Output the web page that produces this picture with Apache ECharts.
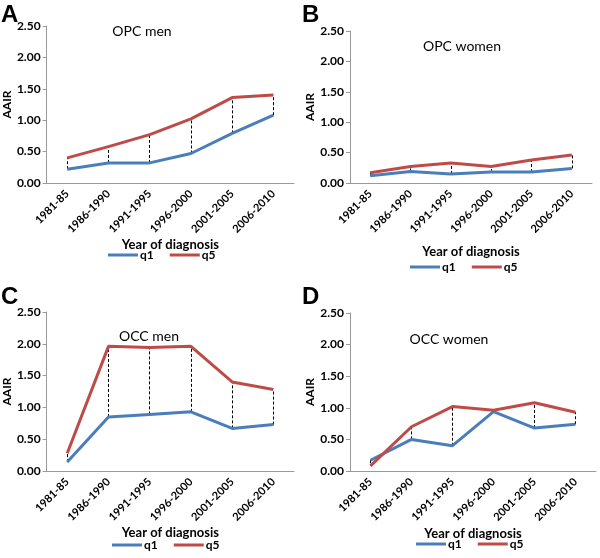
<!DOCTYPE html>
<html>
<head>
<meta charset="utf-8">
<script src="https://cdn.jsdelivr.net/npm/echarts@6/dist/echarts.min.js"></script>
<style>
  html, body { margin: 0; padding: 0; background: #fff; }
  #chart { width: 600px; height: 558px; }
</style>
</head>
<body>
<div id="chart"></div>
<script>
// data
const periods = ["1981-85", "1986-1990", "1991-1995", "1996-2000", "2001-2005", "2006-2010"];
const opcMenQ1 = [0.22, 0.32, 0.32, 0.47, 0.79, 1.08];
const opcMenQ5 = [0.40, 0.58, 0.77, 1.02, 1.36, 1.40];
const opcWomenQ1 = [0.12, 0.19, 0.15, 0.18, 0.18, 0.24];
const opcWomenQ5 = [0.17, 0.27, 0.33, 0.27, 0.38, 0.46];
const occMenQ1 = [0.14, 0.85, 0.89, 0.93, 0.67, 0.73];
const occMenQ5 = [0.28, 1.96, 1.94, 1.96, 1.40, 1.28];
const occWomenQ1 = [0.17, 0.50, 0.40, 0.94, 0.68, 0.74];
const occWomenQ5 = [0.08, 0.70, 1.02, 0.96, 1.08, 0.93];

const panels = [
  { letter: "A", name: "OPC men", q1: opcMenQ1, q5: opcMenQ5 },
  { letter: "B", name: "OPC women", q1: opcWomenQ1, q5: opcWomenQ5 },
  { letter: "C", name: "OCC men", q1: occMenQ1, q5: occMenQ5 },
  { letter: "D", name: "OCC women", q1: occWomenQ1, q5: occWomenQ5 },
];

// layout of each panel (pixels)
const grids = [
  { left: 45, top: 26, width: 249, height: 157 },
  { left: 350, top: 31, width: 242, height: 152 },
  { left: 45, top: 312, width: 249, height: 159 },
  { left: 350, top: 313, width: 246, height: 158 },
];
const letterPos = [[1, 3], [302, 3], [1, 285], [302, 285]];
const namePos = [[142, 24], [462, 39], [149, 329], [449, 332]];
const xNameGap = [52, 62, 50, 56];
const legendPos = [[108, 249], [410, 261], [112, 539], [416, 538]];

const font = "Lato, 'Open Sans', sans-serif";
const blue = "#4A7EBB";
const red = "#BE4B48";
const axisGray = "#9a9a9a";

const option = {
  animation: false,
  backgroundColor: "#fff",
  title: [],
  legend: [],
  grid: [],
  xAxis: [],
  yAxis: [],
  series: [],
};

panels.forEach((p, i) => {
  option.grid.push(Object.assign({ containLabel: false }, grids[i]));
  option.title.push({
    text: p.letter,
    left: letterPos[i][0],
    top: letterPos[i][1],
    padding: 0,
    textStyle: { fontFamily: "'Liberation Sans', Arial, sans-serif", fontSize: 24, fontWeight: "bold", color: "#000" },
  });
  option.title.push({
    text: p.name,
    left: namePos[i][0],
    top: namePos[i][1],
    textAlign: "center",
    padding: 0,
    textStyle: { fontFamily: font, fontSize: 14, fontWeight: "normal", color: "#000" },
  });
  option.legend.push({
    data: ["q1", "q5"],
    left: legendPos[i][0],
    top: legendPos[i][1],
    padding: 0,
    icon: "rect",
    itemWidth: 30,
    itemHeight: 3,
    itemGap: 16,
    textStyle: { fontFamily: font, fontSize: 12, fontWeight: "bold", color: "#000", padding: [0, 0, 0, -3] },
    selectedMode: false,
  });
  option.xAxis.push({
    type: "category",
    gridIndex: i,
    data: periods,
    boundaryGap: true,
    name: "Year of diagnosis",
    nameLocation: "middle",
    nameGap: xNameGap[i],
    nameTextStyle: { fontFamily: font, fontSize: 13, fontWeight: "bold", color: "#000" },
    axisLine: { lineStyle: { color: axisGray, width: 1 } },
    axisTick: { show: false },
    axisLabel: {
      rotate: 45,
      interval: 0,
      margin: 9,
      fontFamily: font,
      fontSize: 11,
      fontWeight: "bold",
      color: "#000",
    },
  });
  option.yAxis.push({
    type: "value",
    gridIndex: i,
    min: 0,
    max: 2.5,
    interval: 0.5,
    name: "AAIR",
    nameLocation: "middle",
    nameGap: 32,
    nameTextStyle: { fontFamily: font, fontSize: 12, fontWeight: "bold", color: "#000" },
    axisLine: { show: true, lineStyle: { color: axisGray, width: 1 } },
    axisTick: { show: true, length: 4, lineStyle: { color: axisGray } },
    splitLine: { show: false },
    axisLabel: {
      margin: 6,
      fontFamily: font,
      fontSize: 12,
      fontWeight: "bold",
      color: "#000",
      formatter: (v) => v.toFixed(2),
    },
  });
  option.series.push({
    name: "q1",
    type: "line",
    xAxisIndex: i,
    yAxisIndex: i,
    data: p.q1,
    symbol: "none",
    lineStyle: { color: blue, width: 3 },
    itemStyle: { color: blue },
    z: 3,
  });
  option.series.push({
    name: "q5",
    type: "line",
    xAxisIndex: i,
    yAxisIndex: i,
    data: p.q5,
    symbol: "none",
    lineStyle: { color: red, width: 3 },
    itemStyle: { color: red },
    z: 4,
    markLine: {
      silent: true,
      symbol: "none",
      label: { show: false },
      lineStyle: { color: "#000", width: 1, type: [3, 2] },
      z: 2,
      data: periods.map((_, k) => [
        { coord: [k, p.q1[k]] },
        { coord: [k, p.q5[k]] },
      ]),
    },
  });
});

const chart = echarts.init(document.getElementById("chart"), null, { renderer: "canvas" });
chart.setOption(option);
</script>
</body>
</html>
